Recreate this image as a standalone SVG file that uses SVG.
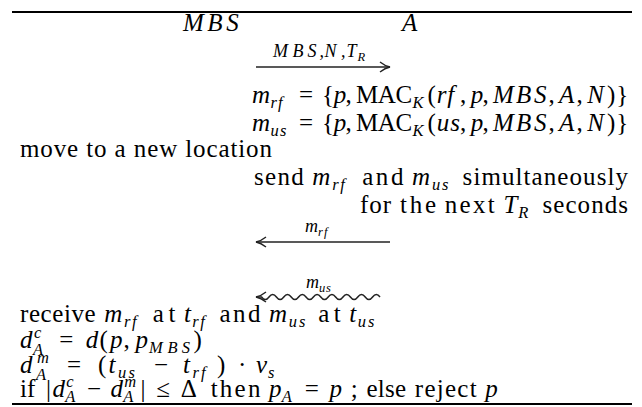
<svg xmlns="http://www.w3.org/2000/svg" width="642" height="407" viewBox="0 0 642 407">
<style>
text{font-family:"Liberation Serif","Times New Roman",serif;font-size:25px;fill:#000}
.i{font-style:italic}
.sb{font-size:16.5px}
.lb{font-size:18px;font-style:italic}
.ls{font-size:12.5px;font-style:italic}
.rule{stroke:#000;stroke-width:2}
.ln{stroke:#222;stroke-width:1.5;fill:none}
</style>
<defs>
<marker id="ah" viewBox="-12 -7 14 14" refX="0" refY="0" markerWidth="14" markerHeight="14" orient="auto" markerUnits="userSpaceOnUse">
<path d="M-10,-5 Q-5,-1 0,0 Q-5,1 -10,5" fill="none" stroke="#222" stroke-width="1.4"/>
</marker>
</defs>
<line class="rule" x1="12" y1="12" x2="632" y2="12"/>
<line class="rule" x1="12" y1="404" x2="632" y2="404"/>
<g id="mbs"><text class="i" x="183 207.3 226.3" y="31">MBS</text></g>
<g id="a"><text class="i" x="402" y="31">A</text></g>
<g id="connectors">
<line class="ln" x1="256" y1="67" x2="390" y2="67" marker-end="url(#ah)"/>
<line class="ln" x1="390" y1="242" x2="256" y2="242" marker-end="url(#ah)"/>
<path class="ln" d="M380,297 q-3.7,-5 -7.4,0 t-7.4,0 t-7.4,0 t-7.4,0 t-7.4,0 t-7.4,0 t-7.4,0 t-7.4,0 t-7.4,0 t-7.4,0 t-7.4,0 t-7.4,0 t-7.4,0 t-7.4,0 t-7.4,0 t-7.4,0 L256,297" marker-end="url(#ah)"/>
</g>
<g id="labels">
<text class="lb" x="273 292.5 307.5 319.5 324.5 341 346.5" y="57">MBS,N,T</text><text class="ls" x="357.5" y="60.5">R</text>
<text class="lb" x="305" y="232">m</text><text class="ls" x="318 324" y="236">rf</text>
<text class="lb" x="306" y="288">m</text><text class="ls" x="319 326" y="292">us</text>
</g>
<g id="step-mrf">
<text y="103"><tspan class="i" x="252.1">m</tspan><tspan class="i sb" x="270.4 277.9" y="108">rf</tspan><tspan x="299" y="103">=</tspan><tspan x="321.9">{</tspan><tspan class="i" x="333.7">p</tspan><tspan x="345.6">,</tspan><tspan x="356.1 377.8 395.5">MAC</tspan><tspan class="i sb" x="412.5" y="108">K</tspan><tspan x="427.6" y="103">(</tspan><tspan class="i" x="436.7 447.3">rf</tspan><tspan x="460.1">,</tspan><tspan class="i" x="470.7">p</tspan><tspan x="482.6">,</tspan><tspan class="i" x="493.1 516 533.9">MBS</tspan><tspan x="548.4">,</tspan><tspan class="i" x="558.9">A</tspan><tspan x="576.6">,</tspan><tspan class="i" x="587.2">N</tspan><tspan x="607.1">)</tspan><tspan x="616.3">}</tspan></text>
</g>
<g id="step-mus">
<text y="131"><tspan class="i" x="252.1">m</tspan><tspan class="i sb" x="270.4 279.9" y="136">us</tspan><tspan x="299" y="131">=</tspan><tspan x="321.9">{</tspan><tspan class="i" x="333.7">p</tspan><tspan x="345.6">,</tspan><tspan x="356.1 377.8 395.5">MAC</tspan><tspan class="i sb" x="412.5" y="136">K</tspan><tspan x="427.6" y="131">(</tspan><tspan class="i" x="436.7 450.2">us</tspan><tspan x="460.1">,</tspan><tspan class="i" x="470.7">p</tspan><tspan x="482.6">,</tspan><tspan class="i" x="493.1 516 533.9">MBS</tspan><tspan x="548.4">,</tspan><tspan class="i" x="558.9">A</tspan><tspan x="576.6">,</tspan><tspan class="i" x="587.2">N</tspan><tspan x="607.1">)</tspan><tspan x="616.3">}</tspan></text>
</g>
<g id="step-move">
<text x="20" y="157" textLength="252" lengthAdjust="spacing">move to a new location</text>
</g>
<g id="step-send">
<text x="254" y="185" textLength="49.8">send</text>
<text class="i" x="312.3" y="185">m</text><text class="i sb" x="332.3 340.3" y="190">rf</text>
<text x="362.2" y="185" textLength="41.2">and</text>
<text class="i" x="411.9" y="185">m</text><text class="i sb" x="431.9 442.1" y="190">us</text>
<text x="462.6" y="185" textLength="165.4">simultaneously</text>
</g>
<g id="step-for">
<text x="360" y="213" textLength="31.2">for</text>
<text x="399.9" y="213" textLength="36.2">the</text>
<text x="444.8" y="213" textLength="50">next</text>
<text class="i" x="503.5" y="213">T</text><text class="i sb" x="518.2" y="218">R</text>
<text x="542.4" y="213" textLength="85.6">seconds</text>
</g>
<g id="step-receive">
<text x="20" y="322" textLength="75.7">receive</text>
<text class="i" x="104.2" y="322">m</text><text class="i sb" x="124 132" y="327">rf</text>
<text x="152.8" y="322" textLength="22.6">at</text>
<text class="i" x="183.9" y="322">t</text><text class="i sb" x="192.3 200.3" y="327">rf</text>
<text x="219.4" y="322" textLength="41">and</text>
<text class="i" x="268.9" y="322">m</text><text class="i sb" x="288.7 298.9" y="327">us</text>
<text x="318.2" y="322" textLength="22.6">at</text>
<text class="i" x="349.3" y="322">t</text><text class="i sb" x="357.7 367.9" y="327">us</text>
</g>
<g id="step-dc">
<text class="i" x="20" y="348">d</text>
<text class="i sb" x="34" y="338">c</text>
<text class="i sb" x="33" y="355">A</text>
<text y="348"><tspan x="59.2">=</tspan><tspan class="i" x="85.7">d</tspan><tspan x="99.6">(</tspan><tspan class="i" x="110.1">p</tspan><tspan x="123.6">,</tspan><tspan class="i" x="135.6">p</tspan><tspan class="i sb" x="149.1 167.4 181.7" y="353">MBS</tspan><tspan x="193.4" y="348">)</tspan></text>
</g>
<g id="step-dm">
<text class="i" x="20" y="373">d</text>
<text class="i sb" x="36.9" y="363">m</text>
<text class="i sb" x="35.9" y="380">A</text>
<text y="373"><tspan x="67">=</tspan><tspan x="98">(</tspan><tspan class="i" x="108.5">t</tspan><tspan class="i sb" x="118 128.5" y="378">us</tspan><tspan x="154" y="373">−</tspan><tspan class="i" x="183">t</tspan><tspan class="i sb" x="192.5 201" y="378">rf</tspan><tspan x="217" y="373">)</tspan><tspan x="238">·</tspan><tspan class="i" x="256">v</tspan><tspan class="i sb" x="268" y="378">s</tspan></text>
</g>
<g id="step-if">
<text x="20" y="397">if</text>
<text x="46" y="397">|</text>
<text class="i" x="52.6" y="397">d</text>
<text class="i sb" x="66.3" y="387">c</text>
<text class="i sb" x="65.3" y="401.5">A</text>
<text x="87" y="397">−</text>
<text class="i" x="110.6" y="397">d</text>
<text class="i sb" x="124.3" y="387">m</text>
<text class="i sb" x="123.3" y="401.5">A</text>
<text x="140.6" y="397">|</text>
<text x="156.3" y="397">≤</text>
<text x="180.8" y="397">Δ</text>
<text x="210.7" y="397" textLength="49.7">then</text>
<text class="i" x="269" y="397">p</text><text class="i sb" x="281.8" y="401.5">A</text>
<text x="304.8" y="397">=</text>
<text class="i" x="329.4" y="397">p</text>
<text x="350.7" y="397">;</text>
<text x="366.4" y="397" textLength="39.8">else</text>
<text x="414.8" y="397" textLength="61.8">reject</text>
<text class="i" x="485.2" y="397">p</text>
</g>
</svg>
